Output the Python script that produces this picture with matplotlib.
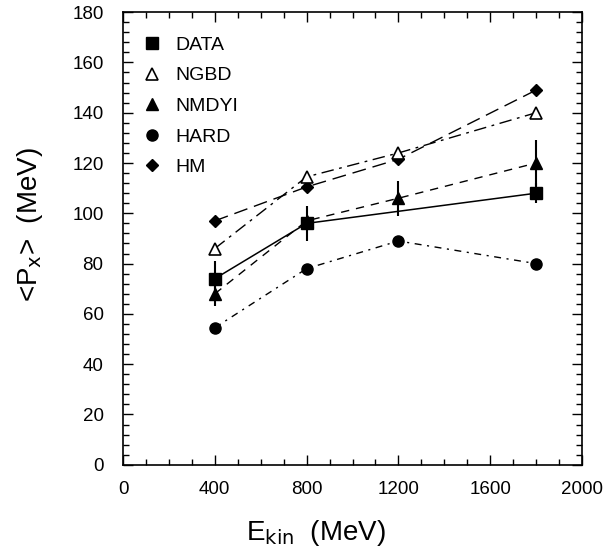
import matplotlib.pyplot as plt
from matplotlib.lines import Line2D
from matplotlib.ticker import MultipleLocator

plt.rcParams['font.family'] = ['Liberation Sans', 'DejaVu Sans']

# beam energies (MeV)
energy = [400, 800, 1200, 1800]
energy_data = [400, 800, 1800]

# <Px> values (MeV)
data_px = [74, 96, 108]
data_err = [7, 7, 4]
ngbd_px = [86, 114.5, 124, 140]
nmdyi_px = [68, 97, 106, 120]
nmdyi_err = [5, 0, 7, 9]
hard_px = [54.5, 78, 89, 80]
hm_px = [97, 110.5, 121.5, 149]

labels = ['DATA', 'NGBD', 'NMDYI', 'HARD', 'HM']

fig = plt.figure(figsize=(6.12, 5.52), dpi=100)
ax = fig.add_axes([0.201, 0.158, 0.750, 0.820])

ms = 8
ax.plot(energy, hm_px, color='black', lw=1, dashes=(10, 5),
        marker='D', ms=6.5, mfc='black')
ax.plot(energy, ngbd_px, color='black', lw=1, dashes=(9, 4, 2, 4),
        marker='^', ms=ms, mfc='white', mew=1.2)
ax.errorbar(energy, nmdyi_px, yerr=nmdyi_err, color='black', lw=1,
            dashes=(6, 5), marker='^', ms=ms, mfc='black', elinewidth=1.5, capsize=0)
ax.plot(energy, hard_px, color='black', lw=1, dashes=(5, 4, 1.5, 4),
        marker='o', ms=ms, mfc='black')
ax.errorbar(energy_data, data_px, yerr=data_err, color='black', lw=1.1,
            marker='s', ms=ms, mfc='black', elinewidth=1.5, capsize=0)

ax.set_xlim(0, 2000)
ax.set_ylim(0, 180)
ax.xaxis.set_major_locator(MultipleLocator(400))
ax.xaxis.set_minor_locator(MultipleLocator(100))
ax.yaxis.set_major_locator(MultipleLocator(20))
ax.yaxis.set_minor_locator(MultipleLocator(4))
ax.tick_params(which='both', direction='in', top=True, right=True,
               labelsize=13.5, width=1)
ax.tick_params(which='major', length=7)
ax.tick_params(axis='x', which='major', pad=12)
ax.tick_params(axis='y', which='major', pad=14)
ax.tick_params(which='minor', length=4)
for s in ax.spines.values():
    s.set_linewidth(1.2)

ax.set_xlabel(r'E$_{\rm kin}$  (MeV)', fontsize=20)
ax.set_ylabel(r'<P$_{\rm x}$>  (MeV)', fontsize=20)
ax.xaxis.set_label_coords(0.42, -0.118)
ax.yaxis.set_label_coords(-0.17, 0.53)

# legend with markers only
handles = [
    Line2D([], [], ls='none', marker='s', ms=ms, color='black'),
    Line2D([], [], ls='none', marker='^', ms=ms, color='black', mfc='white', mew=1.2),
    Line2D([], [], ls='none', marker='^', ms=ms, color='black'),
    Line2D([], [], ls='none', marker='o', ms=ms, color='black'),
    Line2D([], [], ls='none', marker='D', ms=6.5, color='black'),
]
ax.legend(handles, labels, loc='upper left', frameon=False, fontsize=14,
          handlelength=1, handletextpad=0.7, labelspacing=0.67,
          borderaxespad=0.6, bbox_to_anchor=(0.0, 0.99))

fig.savefig('out.png', dpi=100)
